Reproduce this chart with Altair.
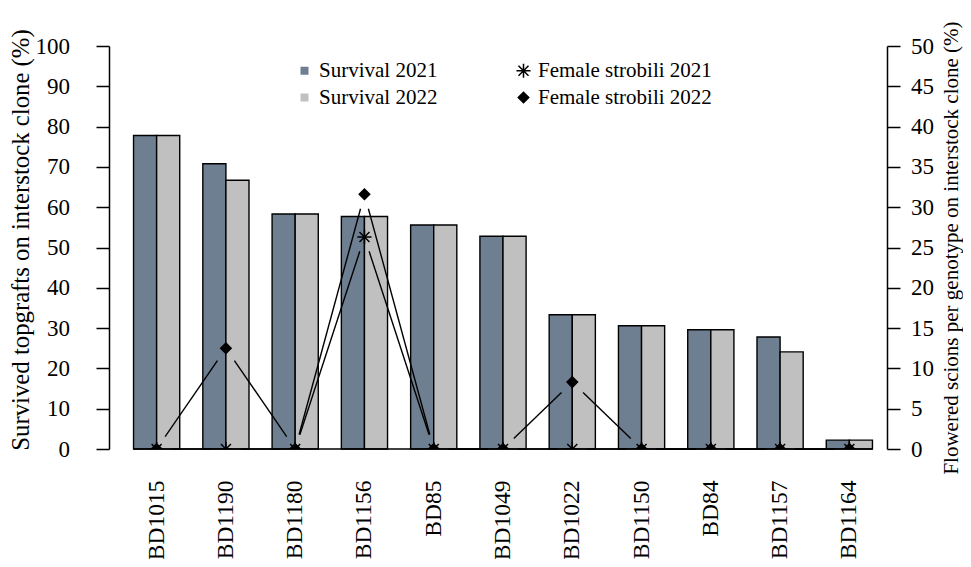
import math
import altair as alt
import pandas as pd

# ---------------- data ----------------
clones = ["BD1015", "BD1190", "BD1180", "BD1156", "BD85", "BD1049",
          "BD1022", "BD1150", "BD84", "BD1157", "BD1164"]
survival_2021 = [77.8, 70.8, 58.3, 57.7, 55.6, 52.8, 33.3, 30.6, 29.6, 27.8, 2.2]
survival_2022 = [77.8, 66.7, 58.3, 57.7, 55.6, 52.8, 33.3, 30.6, 29.6, 24.1, 2.2]
strobili_2021 = [0, 0, 0, 26.3, 0, 0, 0, 0, 0, 0, 0]
strobili_2022 = [0, 12.5, 0, 31.6, 0, 0, 8.3, 0, 0, 0, 0]

series_names = ["Survival 2021", "Survival 2022", "Female strobili 2021", "Female strobili 2022"]

# ---------------- layout / style ----------------
W, H = 762, 403
N = len(clones)
PAD_INNER = 1 / 3
FONT = "Liberation Serif"
DARK = "#6E7F91"
LIGHT = "#C0C0C0"
GAP = 15  # px gap around points (type="b" look)
ASTERISK = ("M-1,0L1,0M0,-1L0,1M-0.7071,-0.7071L0.7071,0.7071"
            "M-0.7071,0.7071L0.7071,-0.7071")

# ---------------- tables ----------------
bar_rows = []
for c, a, b in zip(clones, survival_2021, survival_2022):
    bar_rows.append({"clone": c, "series": "Survival 2021", "value": a})
    bar_rows.append({"clone": c, "series": "Survival 2022", "value": b})
bar_df = pd.DataFrame(bar_rows)

pt_rows = []
for name, vals in [("Female strobili 2021", strobili_2021), ("Female strobili 2022", strobili_2022)]:
    for i, v in enumerate(vals):
        pt_rows.append({"idx": i, "series": name, "value": v})
pt_df = pd.DataFrame(pt_rows)

px_x = W / N
px_y = H / 50
seg_rows = []
for name, vals in [("Female strobili 2021", strobili_2021), ("Female strobili 2022", strobili_2022)]:
    for i in range(N - 1):
        v0, v1 = vals[i], vals[i + 1]
        L = math.hypot(px_x, (v1 - v0) * px_y)
        if L <= 2 * GAP:
            continue
        t = GAP / L
        seg_rows.append({"series": name, "x": i + t, "x2": i + 1 - t,
                         "y": v0 + t * (v1 - v0), "y2": v1 - t * (v1 - v0)})
seg_df = pd.DataFrame(seg_rows)

half_bar = (1 - PAD_INNER) / 2
base_df = pd.DataFrame([{"x": 0 - half_bar, "x2": (N - 1) + half_bar, "y": 0}])

# ---------------- scales / legend ----------------
fill_scale = alt.Scale(domain=series_names, range=[DARK, LIGHT, "transparent", "black"])
shape_scale = alt.Scale(domain=series_names, range=["square", "square", ASTERISK, "diamond"])
stroke_scale = alt.Scale(domain=series_names, range=["transparent", "transparent", "black", "black"])
size_scale = alt.Scale(type="ordinal", domain=series_names, range=[64, 64, 200, 110])

leg = alt.Legend(title=None, orient="none", legendX=172, legendY=14, columns=2,
                 columnPadding=75, rowPadding=5, padding=0, labelLimit=400,
                 labelFont=FONT, labelFontSize=21, labelColor="black",
                 labelOffset=4, symbolStrokeWidth=1.5)

xlin = alt.Scale(domain=[-0.5, N - 0.5], nice=False, zero=False)
yright = alt.Scale(domain=[0, 50], nice=False)

# ---------------- layers ----------------
bars = alt.Chart(bar_df).mark_bar(stroke="black", strokeWidth=1.4, opacity=1).encode(
    x=alt.X("clone:N", sort=clones,
            scale=alt.Scale(paddingInner=PAD_INNER, paddingOuter=PAD_INNER / 2),
            axis=alt.Axis(title=None, labelAngle=-90, domain=False, ticks=False,
                          labelPadding=31, labelFont=FONT, labelFontSize=23.5,
                          labelColor="black")),
    xOffset=alt.XOffset("series:N",
                        scale=alt.Scale(domain=["Survival 2021", "Survival 2022"],
                                        paddingInner=0, paddingOuter=0)),
    y=alt.Y("value:Q", scale=alt.Scale(domain=[0, 100], nice=False),
            axis=alt.Axis(values=list(range(0, 101, 10)),
                          title="Survived topgrafts on interstock clone (%)",
                          offset=13, grid=False,
                          domainColor="black", domainWidth=1.5,
                          tickColor="black", tickWidth=1.5, tickSize=13,
                          labelFont=FONT, labelFontSize=23, labelColor="black",
                          labelPadding=26.5,
                          titleFont=FONT, titleFontSize=24.75, titleFontWeight="normal",
                          titleColor="black", titleX=-76, titleY=193.5)),
    fill=alt.Fill("series:N", scale=fill_scale, legend=leg),
)

baseline = alt.Chart(base_df).mark_rule(color="black", strokeWidth=1.5).encode(
    x=alt.X("x:Q", scale=xlin, axis=None),
    x2="x2:Q",
    y=alt.Y("y:Q", scale=yright),
)

segments = alt.Chart(seg_df).mark_rule(color="black", strokeWidth=1.4).encode(
    x=alt.X("x:Q", scale=xlin, axis=None),
    x2="x2:Q",
    y=alt.Y("y:Q", scale=yright),
    y2="y2:Q",
)

points = alt.Chart(pt_df).mark_point(filled=True, opacity=1, strokeWidth=1.5, clip=True).encode(
    x=alt.X("idx:Q", scale=xlin, axis=None),
    y=alt.Y("value:Q", scale=yright,
            axis=alt.Axis(orient="right", values=list(range(0, 51, 5)),
                          title="Flowered scions per genotype on interstock clone (%)",
                          offset=3, grid=False,
                          domainColor="black", domainWidth=1.5,
                          tickColor="black", tickWidth=1.5, tickSize=13,
                          labelFont=FONT, labelFontSize=23, labelColor="black",
                          labelPadding=10.5,
                          titleFont=FONT, titleFontSize=21, titleFontWeight="normal",
                          titleColor="black", titlePadding=7, titleAngle=-90,
                          titleBaseline="top")),
    shape=alt.Shape("series:N", scale=shape_scale, legend=leg),
    fill=alt.Fill("series:N", scale=fill_scale, legend=leg),
    stroke=alt.Stroke("series:N", scale=stroke_scale, legend=leg),
    size=alt.Size("series:N", scale=size_scale, legend=leg),
)

right = alt.layer(baseline, segments, points)

chart = alt.layer(bars, right).resolve_scale(
    x="independent", y="independent"
).properties(
    width=W, height=H,
    autosize=alt.AutoSizeParams(type="none"),
    padding={"left": 114, "top": 38, "right": 79, "bottom": 110},
    background="white",
).configure_view(stroke=None)

chart.save("out.html", embed_options={"renderer": "svg", "actions": False})
